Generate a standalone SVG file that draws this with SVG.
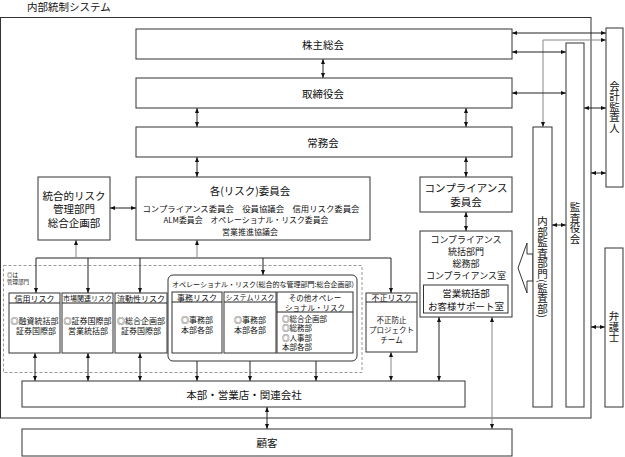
<svg xmlns="http://www.w3.org/2000/svg" width="625" height="457" viewBox="0 0 625 457">
<style>
.box{fill:#fff;stroke:#333;stroke-width:1}
.frame{fill:none;stroke:#333;stroke-width:1}
.dash{fill:none;stroke:#999;stroke-width:1;stroke-dasharray:3 2}
.t{font-family:"Noto Sans CJK JP","Noto Sans",sans-serif;fill:#111;text-anchor:middle;dominant-baseline:central}
.s{text-anchor:start}
.f10{font-size:10.5px}
.f95{font-size:9.5px}
.f9{font-size:9px}
.f8{font-size:8px}
.f75{font-size:7.5px}
.f7{font-size:7px}
.f5{font-size:5.5px}
.v{writing-mode:vertical-rl}
.ln{stroke:#222;stroke-width:1;fill:none}
.gl{stroke:#888}
.a2{marker-start:url(#ah);marker-end:url(#ah)}
.a1{marker-end:url(#ah)}
</style>
<defs>
<marker id="ah" viewBox="0 0 5 4" refX="5" refY="2" markerWidth="5" markerHeight="4" markerUnits="userSpaceOnUse" orient="auto-start-reverse">
<path d="M0,0 L5,2 L0,4 z" fill="#111"/>
</marker>
</defs>
<rect width="625" height="457" fill="#fff"/>
<text class="t f10 s" x="27" y="6">内部統制システム</text>
<rect class="frame" x="0.5" y="17.5" width="590.5" height="400.5"/>
<rect class="dash" x="3.5" y="265.5" width="358.5" height="107"/>

<g id="connectors">
<line class="ln a2" x1="323" y1="59" x2="323" y2="78"/>
<line class="ln a2" x1="197" y1="108" x2="197" y2="127"/>
<line class="ln a2" x1="466" y1="108" x2="466" y2="127"/>
<line class="ln a2" x1="197" y1="157" x2="197" y2="177"/>
<line class="ln a2" x1="466" y1="157" x2="466" y2="177"/>
<line class="ln a2" x1="110" y1="208" x2="136" y2="208"/>
<line class="ln a2" x1="466" y1="212" x2="466" y2="231"/>
<line class="ln a2" x1="512" y1="33" x2="606" y2="33"/>
<path class="ln gl a2" d="M543,127 V40 H606"/>
<line class="ln a2" x1="512" y1="52" x2="566" y2="52"/>
<line class="ln a2" x1="512" y1="93" x2="566" y2="93"/>
<line class="ln a2" x1="584" y1="108" x2="606" y2="108"/>
<line class="ln a2" x1="591" y1="173" x2="606" y2="173"/>
<line class="ln a2" x1="552" y1="225" x2="566" y2="225"/>
<line class="ln a2" x1="591" y1="327" x2="605" y2="327"/>
<line class="ln" x1="36" y1="258" x2="391" y2="258"/>
<line class="ln gl a1" x1="76" y1="258" x2="76" y2="240"/>
<line class="ln gl a1" x1="197" y1="258" x2="197" y2="240"/>
<line class="ln a1" x1="36" y1="258" x2="36" y2="293"/>
<line class="ln a1" x1="88" y1="258" x2="88" y2="293"/>
<line class="ln a1" x1="140" y1="258" x2="140" y2="293"/>
<line class="ln a1" x1="263" y1="258" x2="263" y2="275"/>
<line class="ln a1" x1="391" y1="258" x2="391" y2="293"/>
<line class="ln a2" x1="35" y1="353" x2="35" y2="381"/>
<line class="ln a2" x1="88" y1="353" x2="88" y2="381"/>
<line class="ln a2" x1="140" y1="353" x2="140" y2="381"/>
<line class="ln a2" x1="197" y1="353" x2="197" y2="381"/>
<line class="ln a2" x1="250" y1="353" x2="250" y2="381"/>
<line class="ln a2" x1="316" y1="353" x2="316" y2="381"/>
<line class="ln gl a2" x1="391" y1="352" x2="391" y2="381"/>
<line class="ln a2" x1="439" y1="317" x2="439" y2="381"/>
<line class="ln gl a2" x1="492" y1="317" x2="492" y2="429"/>
<line class="ln a2" x1="267" y1="407" x2="267" y2="429"/>
<polygon points="533,254 527,254 527,243 518,268 527,293 527,281 533,281" fill="#fff" stroke="#333" stroke-width="1"/>
</g>

<g id="kabunushi"><rect class="box" x="136" y="29" width="376" height="30"/><text class="t f10" x="323" y="44">株主総会</text></g>
<g id="torishimari"><rect class="box" x="136" y="78" width="376" height="30"/><text class="t f10" x="323" y="93">取締役会</text></g>
<g id="jomu"><rect class="box" x="136" y="127" width="376" height="30"/><text class="t f10" x="323" y="142">常務会</text></g>
<g id="togo"><rect class="box" x="38" y="177" width="72" height="63"/>
<text class="t f10" x="74" y="195">統合的リスク</text><text class="t f10" x="74" y="208.5">管理部門</text><text class="t f10" x="74" y="222">総合企画部</text></g>
<g id="iinkai"><rect class="box" x="136" y="177" width="234" height="63"/>
<text class="t f10" x="250" y="190">各(リスク)委員会</text>
<text class="t f8" x="251" y="208" textLength="217" lengthAdjust="spacingAndGlyphs">コンプライアンス委員会　役員協議会　信用リスク委員会</text>
<text class="t f8" x="246" y="219.5" textLength="165" lengthAdjust="spacingAndGlyphs">ALM委員会　オペレーショナル・リスク委員会</text>
<text class="t f8" x="250" y="231">営業推進協議会</text></g>
<g id="comp-iinkai"><rect class="box" x="420" y="177" width="92" height="35"/>
<text class="t f10" x="466" y="187.5">コンプライアンス</text><text class="t f10" x="466" y="201.5">委員会</text></g>
<g id="comp-tokatsu"><rect class="box" x="420" y="231" width="92" height="86"/>
<text class="t f9" x="466" y="239.5">コンプライアンス</text><text class="t f9" x="466" y="251.5">統括部門</text>
<text class="t f9" x="466" y="263.5">総務部</text><text class="t f9" x="466" y="275.5">コンプライアンス室</text>
<rect class="box" x="423.5" y="285" width="84.5" height="28"/>
<text class="t f95" x="466" y="292.5">営業統括部</text><text class="t f95" x="466" y="305.5">お客様サポート室</text></g>

<g id="note"><text class="t f5 s" x="7" y="275">◎は</text><text class="t f5 s" x="7" y="282">管理部門</text></g>
<g id="shinyo"><rect class="box" x="9" y="293" width="51" height="60"/><line class="ln" x1="9" y1="303" x2="60" y2="303"/>
<text class="t f8" x="34.5" y="298">信用リスク</text><text class="t f8" x="34.5" y="320">◎融資統括部</text><text class="t f8" x="36" y="330.5">証券国際部</text></g>
<g id="shijo"><rect class="box" x="62" y="293" width="51" height="60"/><line class="ln" x1="62" y1="303" x2="113" y2="303"/>
<text class="t f7" x="87.5" y="298">市場関連リスク</text><text class="t f8" x="87.5" y="320">◎証券国際部</text><text class="t f8" x="88" y="330.5">営業統括部</text></g>
<g id="ryudo"><rect class="box" x="115" y="293" width="52" height="60"/><line class="ln" x1="115" y1="303" x2="167" y2="303"/>
<text class="t f8" x="141" y="298">流動性リスク</text><text class="t f8" x="141" y="320">◎総合企画部</text><text class="t f8" x="141" y="330.5">証券国際部</text></g>
<g id="operational"><rect x="168" y="275" width="189" height="86" rx="5" fill="#fff" stroke="#333"/>
<text class="t f7 s" x="172" y="284" textLength="182" lengthAdjust="spacingAndGlyphs">オペレーショナル・リスク(総合的な管理部門:総合企画部)</text></g>
<g id="jimu"><rect class="box" x="172" y="292" width="50" height="61"/><line class="ln" x1="172" y1="302" x2="222" y2="302"/>
<text class="t f8" x="197" y="297">事務リスク</text><text class="t f8" x="197" y="319">◎事務部</text><text class="t f8" x="197" y="329.5">本部各部</text></g>
<g id="system"><rect class="box" x="224" y="292" width="52" height="61"/><line class="ln" x1="224" y1="302" x2="276" y2="302"/>
<text class="t f7" x="250" y="297">システムリスク</text><text class="t f8" x="250" y="319">◎事務部</text><text class="t f8" x="250" y="329.5">本部各部</text></g>
<g id="sonota"><rect class="box" x="277" y="292" width="76" height="61"/><line class="ln" x1="277" y1="312" x2="353" y2="312"/>
<text class="t f75" x="315" y="297.5">その他オペレー</text><text class="t f75" x="315" y="307">ショナル・リスク</text>
<text class="t f75 s" x="282" y="318">◎総合企画部</text><text class="t f75 s" x="282" y="327.5">◎総務部</text><text class="t f75 s" x="282" y="337">◎人事部</text><text class="t f75 s" x="282" y="346.5">本部各部</text></g>
<g id="fusei"><rect class="box" x="366" y="293" width="51" height="59"/><line class="ln" x1="366" y1="302" x2="417" y2="302"/>
<text class="t f8" x="391.5" y="297.5">不正リスク</text><text class="t f75" x="391.5" y="319.5">不正防止</text><text class="t f75" x="391.5" y="329.5">プロジェクト</text><text class="t f75" x="391.5" y="339.5">チーム</text></g>

<g id="honbu"><rect class="box" x="22" y="381" width="443" height="26"/><text class="t f10" x="244" y="394">本部・営業店・関連会社</text></g>
<g id="kokyaku"><rect class="box" x="22" y="429" width="490" height="27"/><text class="t f10" x="267" y="442.5">顧客</text></g>

<g id="naibu-kansa"><rect class="box" x="533" y="127" width="19" height="280"/><text class="t f10 v" x="542.5" y="267">内部監査部門(監査部)</text></g>
<g id="kansayaku"><rect class="box" x="566" y="43" width="18" height="364"/><text class="t f10 v" x="575" y="223">監査役会</text></g>
<g id="kaikei"><rect class="box" x="606" y="28" width="17" height="159"/><text class="t f10 v" x="614.5" y="107">会計監査人</text></g>
<g id="bengoshi"><rect class="box" x="605" y="248" width="18" height="159"/><text class="t f10 v" x="614" y="327">弁護士</text></g>
</svg>
